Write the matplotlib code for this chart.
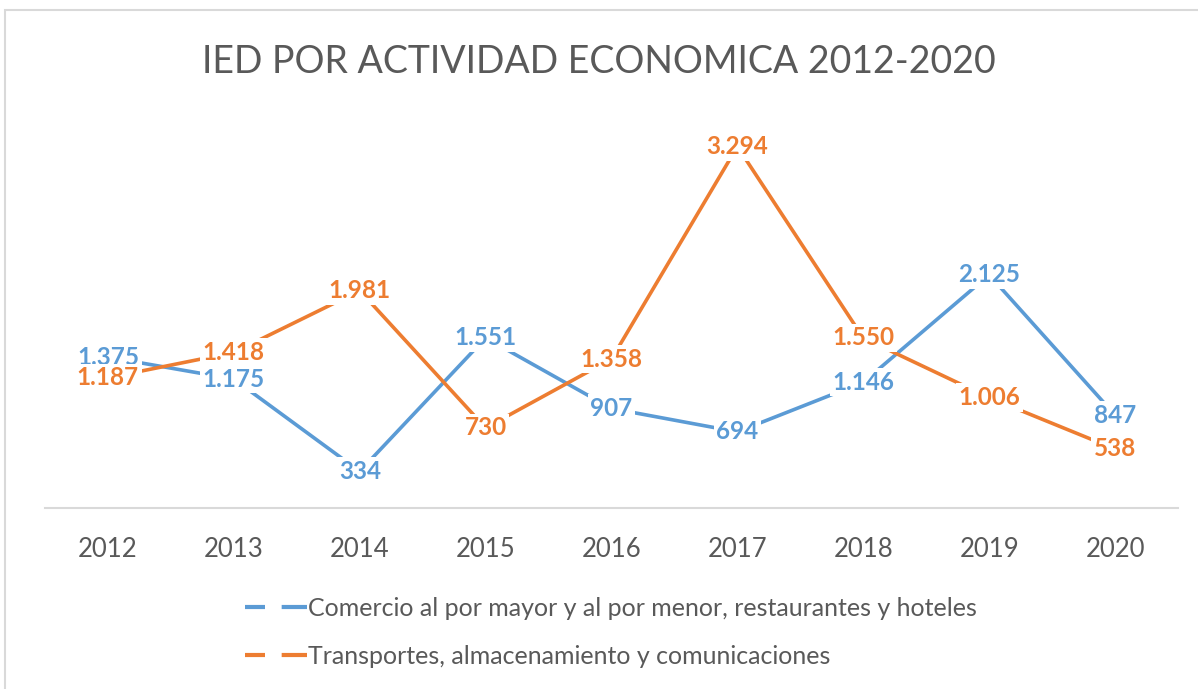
import matplotlib
matplotlib.use("Agg")
import matplotlib.pyplot as plt
from matplotlib.lines import Line2D
from matplotlib.patches import Rectangle

# datos
years = ["2012", "2013", "2014", "2015", "2016", "2017", "2018", "2019", "2020"]
comercio = [1375, 1175, 334, 1551, 907, 694, 1146, 2125, 847]
transportes = [1187, 1418, 1981, 730, 1358, 3294, 1550, 1006, 538]
serie_names = ["Comercio al por mayor y al por menor, restaurantes y hoteles",
               "Transportes, almacenamiento y comunicaciones"]
title = "IED POR ACTIVIDAD ECONOMICA 2012-2020"

BLUE = "#5B9BD5"
ORANGE = "#ED7D31"
GREY = "#595959"

plt.rcParams['font.family'] = ['Lato', 'DejaVu Sans']

fig = plt.figure(figsize=(11.98, 6.89), dpi=100)
W, H = 1198, 689

# marco del gráfico
fig.patches.append(Rectangle((5 / W, -0.05), 1.1, 1 - 10 / H + 0.05,
                             transform=fig.transFigure, fill=False,
                             edgecolor="#D9D9D9", linewidth=1.5))

ax = fig.add_axes([45 / W, 1 - 508 / H, (1178 - 45) / W, (508 - 124) / H])
x = list(range(len(years)))

def fmt(v):
    return f"{v:,}".replace(",", ".")

for vals, col, z in [(comercio, BLUE, 2), (transportes, ORANGE, 3)]:
    ax.plot(x, vals, color=col, linewidth=2.6, zorder=z, solid_capstyle="butt")
    for xi, v in zip(x, vals):
        ax.text(xi, v, fmt(v), color=col, fontsize=17.5, fontweight="bold",
                ha="center", va="center", zorder=z + 5,
                bbox=dict(facecolor="white", edgecolor="none", pad=2))

ax.set_xlim(-0.5, len(years) - 0.5)
ax.set_ylim(0, 3500)
ax.set_xticks(x)
ax.set_xticklabels(years, fontsize=18.5, color=GREY)
ax.tick_params(axis="x", length=0, pad=21)
ax.set_yticks([])
for s in ["top", "right", "left"]:
    ax.spines[s].set_visible(False)
ax.spines["bottom"].set_color("#D9D9D9")
ax.spines["bottom"].set_linewidth(1.5)

fig.text(0.5, 1 - 62 / H, title, ha="center", va="center",
         fontsize=27, color=GREY)

handles = [Line2D([], [], color=c, linewidth=3, linestyle=(0, (4.8, 4.0, 10, 1)))
           for c in (BLUE, ORANGE)]
fig.legend(handles, serie_names, loc="center left",
           bbox_to_anchor=(222 / W, 1 - 632 / H), frameon=False,
           fontsize=18, labelcolor=GREY, handlelength=2.48, handletextpad=0.05,
           labelspacing=1.0)

fig.savefig("out.png", dpi=100)
